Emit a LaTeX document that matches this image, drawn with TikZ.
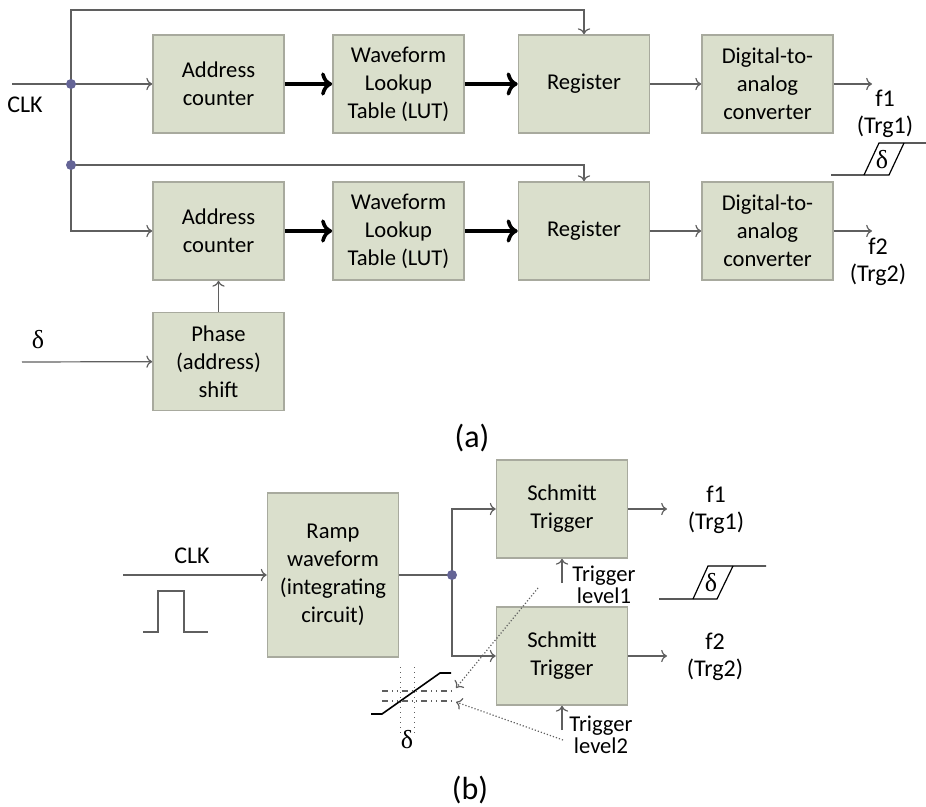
\documentclass[tikz,border=0pt]{standalone}
\usepackage{fontspec}
\setmainfont{Carlito}
\newfontfamily\grk{Liberation Serif}
\usetikzlibrary{arrows.meta}
\definecolor{boxfill}{RGB}{218,223,204}
\definecolor{boxline}{RGB}{168,170,158}
\definecolor{wirec}{RGB}{95,95,95}
\definecolor{dotc}{RGB}{100,100,150}
\begin{document}
\begin{tikzpicture}[x=0.5pt, y=-0.5pt, >=To,
  blk/.style={draw=boxline, fill=boxfill, line width=0.8pt, minimum width=65.5pt,
    minimum height=49pt, align=center, inner sep=0pt, font=\fontsize{11.3}{14}\selectfont},
  wire/.style={draw=wirec, line width=0.6pt},
  bus/.style={draw=black, line width=1.8pt},
  jdot/.style={circle, fill=dotc, inner sep=0pt, minimum size=5pt},
  lbl/.style={align=center, inner sep=0pt, font=\fontsize{12}{13.5}\selectfont},
  trg/.style={align=center, inner sep=0pt, font=\fontsize{11.3}{11}\selectfont},
  dlt/.style={inner sep=0pt, font=\grk\fontsize{13}{14}\selectfont},
  capt/.style={inner sep=0pt, font=\fontsize{16}{18}\selectfont}]
  \useasboundingbox (0,0) rectangle (926,807);
  % (a) two DDS channels
  \coordinate (clka) at (12,84);
  \coordinate (ja) at (71,84);
  \coordinate (jb) at (71,165);
  \coordinate (tl) at (71,10);
  \coordinate (din) at (22,362);
  \coordinate (f1a) at (872,84);
  \coordinate (f2a) at (872,231);
  \node[blk] (ac1) at (218.5,84) {Address\\counter};
  \node[blk] (lut1) at (398.5,84) {Waveform\\Lookup\\Table (LUT)};
  \node[blk] (reg1) at (584,84) {Register};
  \node[blk] (dac1) at (767.5,84) {Digital-to-\\analog\\converter};
  \node[blk] (ac2) at (218.5,231) {Address\\counter};
  \node[blk] (lut2) at (398.5,231) {Waveform\\Lookup\\Table (LUT)};
  \node[blk] (reg2) at (584,231) {Register};
  \node[blk] (dac2) at (767.5,231) {Digital-to-\\analog\\converter};
  \node[blk] (ph) at (218.5,361.5) {Phase\\(address)\\shift};
  \draw[wire] (clka) -- (ja);
  \draw[wire,->] (ja) -- (ac1);
  \draw[wire,->] (jb) -- (tl) -| (reg1.north);
  \draw[wire,->] (jb) -| (reg2.north);
  \draw[wire,->] (jb) |- (ac2.west);
  \draw[wire,->] (din) -- (ph);
  \draw[wire,->] (ph) -- (ac2);
  \draw[bus,->] (ac1) -- (lut1);
  \draw[bus,->] (lut1) -- (reg1);
  \draw[bus,->] (ac2) -- (lut2);
  \draw[bus,->] (lut2) -- (reg2);
  \draw[wire,->] (reg1) -- (dac1);
  \draw[wire,->] (reg2) -- (dac2);
  \draw[wire,->] (dac1) -- (f1a);
  \draw[wire,->] (dac2) -- (f2a);
  \node[jdot] (dja) at (ja) {};
  \node[jdot] (djb) at (jb) {};
  \node[lbl] (clkl) at (25,105) {CLK};
  \node[dlt] (dl) at (38,340) {δ};
  \node[lbl] (f1l) at (885,113.5) {f1\\(Trg1)};
  \node[lbl] (f2l) at (878,262) {f2\\(Trg2)};
  \draw[line width=0.6pt] (831,175) -- (889,175) -- (904,143);
  \draw[line width=0.6pt] (864,175) -- (879,143) -- (926,143);
  \node[dlt] (dpa) at (882,160) {δ};
  \node[capt] (capa) at (472,438) {(a)};
  % (b) ramp and two Schmitt triggers
  \coordinate (clkb) at (123,575);
  \coordinate (jc) at (452,575);
  \coordinate (o1) at (667,509);
  \coordinate (o2) at (667,656);
  \coordinate (lv1) at (562,583);
  \coordinate (lv2) at (562,730);
  \coordinate (pa1) at (538,588);
  \coordinate (pa2) at (563,740);
  \coordinate (h1) at (456,688);
  \coordinate (h2) at (456,702);
  \node[blk, minimum height=82pt] (rmp) at (333,575) {Ramp\\waveform\\(integrating\\circuit)};
  \node[blk] (st1) at (562,509) {Schmitt\\Trigger};
  \node[blk] (st2) at (562,656) {Schmitt\\Trigger};
  \draw[wire,->] (clkb) -- (rmp);
  \draw[wire] (rmp) -- (jc);
  \draw[wire,->] (jc) |- (st1.west);
  \draw[wire,->] (jc) |- (st2.west);
  \draw[wire,->] (st1) -- (o1);
  \draw[wire,->] (st2) -- (o2);
  \draw[wire,->] (lv1) -- (st1.south);
  \draw[wire,->] (lv2) -- (st2.south);
  \node[jdot] (djc) at (jc) {};
  \node[lbl] (clkbl) at (192,556) {CLK};
  \node[lbl] (f1bl) at (716,510) {f1\\(Trg1)};
  \node[lbl] (f2bl) at (715,657) {f2\\(Trg2)};
  \node[trg] (lv1l) at (604,585) {Trigger\\level1};
  \node[trg] (lv2l) at (601,735) {Trigger\\level2};
  \draw[wire] (143,632) -- (158,632) -- (158,591) -- (184,591) -- (184,632) -- (208,632);
  \draw[line width=0.6pt] (659,599) -- (717,599) -- (733,566);
  \draw[line width=0.6pt] (693,599) -- (708,566) -- (766,566);
  \node[dlt] (dpb) at (711,583) {δ};
  % hysteresis sketch
  \draw[line width=0.8pt] (371,714) -- (382,714) -- (440,673) -- (451,673);
  \draw[wirec, dotted, line width=0.5pt] (400,667) -- (400,733);
  \draw[wirec, dotted, line width=0.5pt] (414,667) -- (414,733);
  \draw[wirec, dash dot dot, line width=0.8pt] (382,691) -- (453,691);
  \draw[wirec, dash dot dot, line width=0.8pt] (382,701) -- (453,701);
  \node[dlt] (dh) at (407,740) {δ};
  \draw[wire, densely dotted, ->] (pa1) -- (h1);
  \draw[wire, densely dotted, ->] (pa2) -- (h2);
  \node[capt] (capb) at (470,790) {(b)};
\end{tikzpicture}
\end{document}
